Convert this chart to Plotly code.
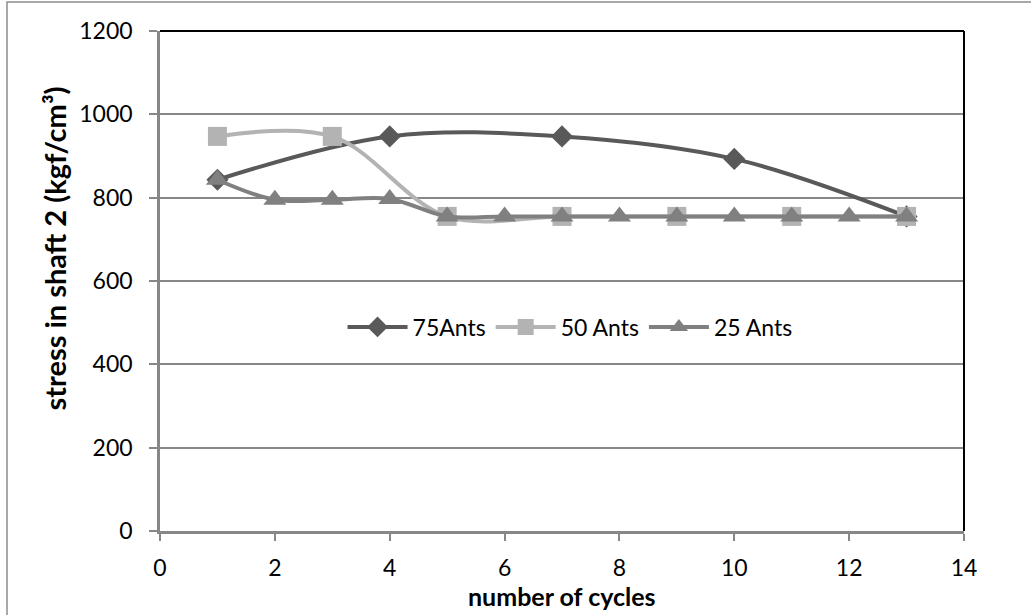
import plotly.graph_objects as go

# Series data: stress in shaft 2 per number of cycles
cycles_75 = [1, 4, 7, 10, 13]
stress_75 = [843, 947, 947, 893, 755]

cycles_50 = [1, 3, 5, 7, 9, 11, 13]
stress_50 = [947, 947, 755, 755, 755, 755, 755]

cycles_25 = [1, 2, 3, 4, 5, 6, 7, 8, 9, 10, 11, 12, 13]
stress_25 = [843, 795, 795, 797, 755, 755, 755, 755, 755, 755, 755, 755, 755]

x_ticks = [0, 2, 4, 6, 8, 10, 12, 14]
y_ticks = [0, 200, 400, 600, 800, 1000, 1200]

FONT = "Lato"
GRID = "#878787"
TICK_SIZE = 23

fig = go.Figure()

fig.add_trace(go.Scatter(
    x=cycles_75, y=stress_75, name="75Ants", mode="lines+markers",
    line=dict(color="#595959", width=4, shape="spline", smoothing=1),
    marker=dict(symbol="diamond", size=17, color="#595959"),
))
fig.add_trace(go.Scatter(
    x=cycles_50, y=stress_50, name="50 Ants", mode="lines+markers",
    line=dict(color="#b3b3b3", width=4, shape="spline", smoothing=1),
    marker=dict(symbol="square", size=19, color="#b3b3b3"),
))
fig.add_trace(go.Scatter(
    x=cycles_25, y=stress_25, name="25 Ants", mode="lines+markers",
    line=dict(color="#808080", width=4, shape="spline", smoothing=1),
    marker=dict(symbol="triangle-up", size=20, color="#808080"),
))

fig.update_layout(
    width=1031, height=615,
    margin=dict(l=160, r=67, t=31, b=84),
    paper_bgcolor="white", plot_bgcolor="white",
    font=dict(family=FONT, size=TICK_SIZE, color="black"),
    showlegend=True,
    legend=dict(
        orientation="h", x=0.51, y=0.408, xanchor="center", yanchor="middle",
        bgcolor="rgba(0,0,0,0)", font=dict(family=FONT, size=TICK_SIZE),
        itemwidth=60, tracegroupgap=0,
    ),
    xaxis=dict(
        range=[0, 14], tickvals=x_ticks, ticktext=[str(v) for v in x_ticks],
        showgrid=False, zeroline=False,
        showline=True, linecolor=GRID, linewidth=2.5,
        ticks="outside", ticklen=7, tickwidth=1.5, tickcolor=GRID,
        ticklabelstandoff=8,
        tickfont=dict(family=FONT, size=TICK_SIZE),
    ),
    yaxis=dict(
        range=[0, 1200], tickvals=y_ticks, ticktext=[str(v) for v in y_ticks],
        showgrid=True, gridcolor=GRID, gridwidth=1.5, zeroline=False,
        showline=True, linecolor=GRID, linewidth=2.5,
        ticks="outside", ticklen=8, tickwidth=1.5, tickcolor=GRID,
        ticklabelstandoff=12,
        tickfont=dict(family=FONT, size=TICK_SIZE),
    ),
    annotations=[
        dict(text="<b>number of cycles</b>", xref="paper", yref="paper",
             x=0.5, y=-0.13, xanchor="center", yanchor="middle",
             showarrow=False, font=dict(family=FONT, size=25)),
        dict(text="<b>stress in shaft 2 (kgf/cm³)</b>", xref="paper", yref="paper",
             x=-0.1306, y=0.565, xanchor="center", yanchor="middle",
             textangle=-90, showarrow=False, font=dict(family=FONT, size=29)),
    ],
    shapes=[
        # black frame on top and right of the plot area
        dict(type="line", xref="paper", yref="paper", x0=0, x1=1, y0=1, y1=1,
             line=dict(color="black", width=2)),
        dict(type="line", xref="paper", yref="paper", x0=1, x1=1, y0=0, y1=1,
             line=dict(color="black", width=2)),
        # outer chart border
        dict(type="rect", xref="paper", yref="paper",
             x0=-0.1903, x1=1.12, y0=-0.2, y1=1.058,
             line=dict(color="#8c8c8c", width=1.5), layer="below"),
    ],
)

fig.write_html("out.html")
